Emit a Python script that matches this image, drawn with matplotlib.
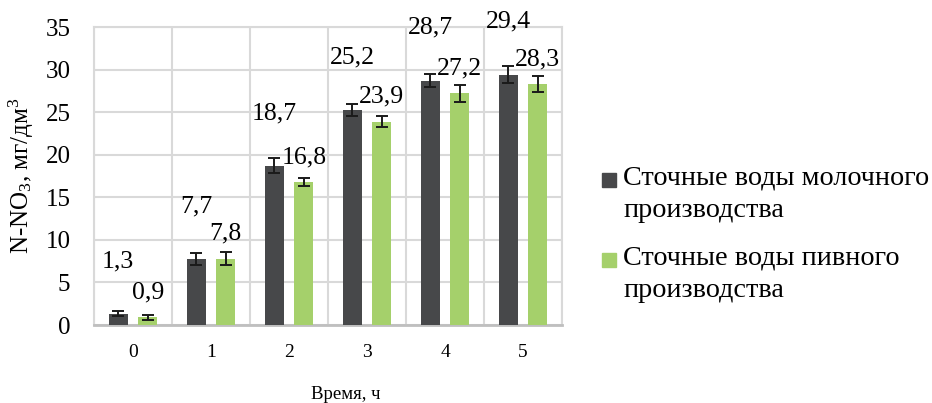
import numpy as np
import matplotlib
matplotlib.use("Agg")
import matplotlib.pyplot as plt
from matplotlib.patches import Rectangle

plt.rcParams['font.family'] = ['Liberation Serif', 'DejaVu Serif']
plt.rcParams['mathtext.fontset'] = 'custom'
plt.rcParams['mathtext.rm'] = 'Liberation Serif'
plt.rcParams['mathtext.it'] = 'Liberation Serif:italic'

# Time points (h) and nitrate nitrogen concentration, mg/dm3
hours = [0, 1, 2, 3, 4, 5]
dairy = [1.3, 7.7, 18.7, 25.2, 28.7, 29.4]
dairy_err = [0.3, 0.7, 0.9, 0.7, 0.8, 1.0]
brewery = [0.9, 7.8, 16.8, 23.9, 27.2, 28.3]
brewery_err = [0.3, 0.8, 0.5, 0.65, 1.0, 0.9]

series_names = ["Сточные воды молочного\nпроизводства",
                "Сточные воды пивного\nпроизводства"]
dark = '#47484a'
green = '#a5d06b'

fig = plt.figure(figsize=(9.32, 4.03), dpi=100)
W, H = 932, 403
ax = fig.add_axes([94 / W, 1 - 325 / H, (562 - 94) / W, (325 - 27) / H])

x = np.arange(len(hours))
width = 0.245
off = 0.19

ax.bar(x - off, dairy, width, color=dark, zorder=3)
ax.bar(x + off, brewery, width, color=green, zorder=3)
ebkw = dict(fmt='none', ecolor='#1a1a1a', elinewidth=1.4, capsize=4.5, capthick=1.4, zorder=4)
ax.errorbar(x - off, dairy, yerr=dairy_err, **ebkw)
ax.errorbar(x + off, brewery, yerr=brewery_err, **ebkw)

def fmt(v):
    return f"{v:.1f}".replace('.', ',')

for xi, v in zip(x - off, dairy):
    ax.annotate(fmt(v), (xi, v), xytext=(0, 38), textcoords='offset points',
                ha='center', va='center', fontsize=18.5, zorder=5)
for xi, v in zip(x + off, brewery):
    ax.annotate(fmt(v), (xi, v), xytext=(0, 18), textcoords='offset points',
                ha='center', va='center', fontsize=18.5, zorder=5)

ax.set_xlim(-0.5, len(hours) - 0.5)
ax.set_ylim(0, 35)
ax.set_yticks(np.arange(0, 36, 5))
ax.set_xticks(x)
ax.set_xticklabels([str(h) for h in hours], fontsize=14)
ax.set_xticks(np.arange(-0.5, len(hours), 1), minor=True)
ax.tick_params(axis='y', length=0, labelsize=18, pad=17)
ax.tick_params(axis='x', which='both', length=0, pad=14)

ax.grid(axis='y', color='#d9d9d9', linewidth=1.5, zorder=0)
ax.grid(axis='x', which='minor', color='#d9d9d9', linewidth=1.5, zorder=0)
ax.grid(axis='x', which='major', visible=False)
for side in ['left', 'right', 'top']:
    ax.spines[side].set_color('#d9d9d9')
    ax.spines[side].set_linewidth(1.5)
ax.spines['bottom'].set_color('#bfbfbf')
ax.spines['bottom'].set_linewidth(2)

ax.set_ylabel(r"N-NO$_3$, мг/дм$^3$", fontsize=18)
ax.yaxis.set_label_coords((36 - 94) / 468, 0.5)
ax.set_xlabel("Время, ч", fontsize=13.5)
ax.xaxis.set_label_coords((346 - 94) / 468, (325 - 386) / 298)

# Legend: square swatch aligned with the first line of each two-line entry
for color, name, ytop in [(dark, series_names[0], 173), (green, series_names[1], 253)]:
    fig.patches.append(Rectangle((602 / W, 1 - (ytop + 14) / H), 14 / W, 14 / H,
                                 transform=fig.transFigure, color=color))
    fig.text(623 / W, 1 - (ytop - 7) / H, name, ha='left', va='top',
             fontsize=20.3, linespacing=1.37)

fig.savefig("out.png", dpi=100)
